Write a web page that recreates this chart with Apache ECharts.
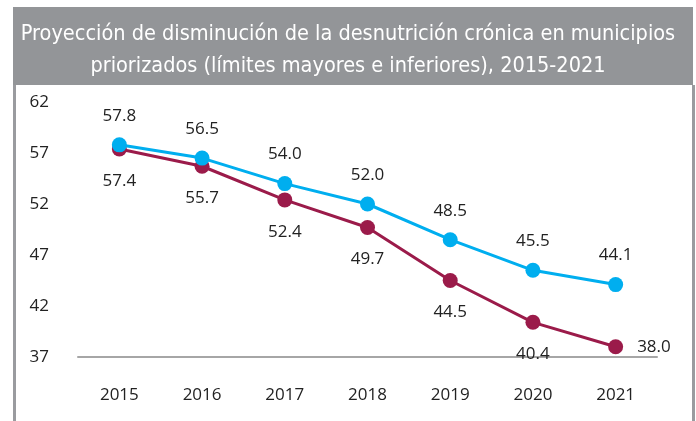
<!DOCTYPE html>
<html>
<head>
<meta charset="utf-8">
<script src="https://cdn.jsdelivr.net/npm/echarts@6/dist/echarts.min.js"></script>
<style>
  html, body { margin: 0; padding: 0; background: #fff; }
  #chart { width: 696px; height: 421px; }
</style>
</head>
<body>
<div id="chart"></div>
<script>
// datos
const years = ['2015', '2016', '2017', '2018', '2019', '2020', '2021'];
const limiteMayor = [57.8, 56.5, 54.0, 52.0, 48.5, 45.5, 44.1];
const limiteInferior = [57.4, 55.7, 52.4, 49.7, 44.5, 40.4, 38.0];
const yMin = 37, yMax = 62, yStep = 5;

const titulo = 'Proyección de disminución de la desnutrición crónica en municipios\npriorizados (límites mayores e inferiores), 2015-2021';

const font = '"Open Sans", sans-serif';
const gris = '#9a9b9f';

let chart = echarts.init(document.getElementById('chart'), null, { renderer: 'canvas' });

chart.setOption({
  animation: false,
  backgroundColor: '#fff',
  title: {
    text: titulo,
    left: 'center',
    top: 13,
    textStyle: {
      color: '#fff',
      fontFamily: '"DejaVu Sans Condensed", "Liberation Sans Narrow", sans-serif',
      fontSize: 21.5,
      fontWeight: 'normal',
      lineHeight: 32
    }
  },
  graphic: [
    // banda gris del título y marco
    { type: 'rect', z: -1, shape: { x: 13, y: 7, width: 680, height: 78 }, style: { fill: '#939598' } },
    { type: 'rect', z: -1, shape: { x: 13, y: 85, width: 3, height: 336 }, style: { fill: gris } },
    { type: 'rect', z: -1, shape: { x: 692, y: 85, width: 3, height: 336 }, style: { fill: gris } }
  ],
  grid: { left: 78, right: 39, top: 102, bottom: 64 },
  xAxis: {
    type: 'category',
    data: years,
    boundaryGap: true,
    axisLine: { lineStyle: { color: '#a6a6a6', width: 2 } },
    axisTick: { show: false },
    axisLabel: { color: '#222', fontFamily: font, fontSize: 17, margin: 30 }
  },
  yAxis: {
    type: 'value',
    min: yMin,
    max: yMax,
    interval: yStep,
    axisLine: { show: false },
    axisTick: { show: false },
    splitLine: { show: false },
    axisLabel: { color: '#222', fontFamily: font, fontSize: 17, margin: 29 }
  },
  series: [
    {
      name: 'Límite mayor',
      type: 'line',
      data: limiteMayor,
      z: 3,
      symbol: 'circle',
      symbolSize: 15,
      lineStyle: { color: '#00aeef', width: 3 },
      itemStyle: { color: '#00aeef' },
      label: {
        show: true, position: 'top', distance: 13,
        color: '#222', fontFamily: font, fontSize: 17,
        formatter: p => p.value.toFixed(1)
      }
    },
    {
      name: 'Límite inferior',
      type: 'line',
      data: limiteInferior,
      z: 2,
      symbol: 'circle',
      symbolSize: 15,
      lineStyle: { color: '#9b1b4a', width: 3 },
      itemStyle: { color: '#9b1b4a' },
      label: {
        show: true, position: 'bottom', distance: 16,
        color: '#222', fontFamily: font, fontSize: 17,
        formatter: p => p.value.toFixed(1)
      },
      labelLayout: function (params) {
        // el último valor va a la derecha del punto
        if (params.dataIndex === limiteInferior.length - 1) {
          return {
            x: params.rect.x + params.rect.width + 14,
            y: params.rect.y + params.rect.height / 2,
            align: 'left',
            verticalAlign: 'middle'
          };
        }
      }
    }
  ]
});
</script>
</body>
</html>
